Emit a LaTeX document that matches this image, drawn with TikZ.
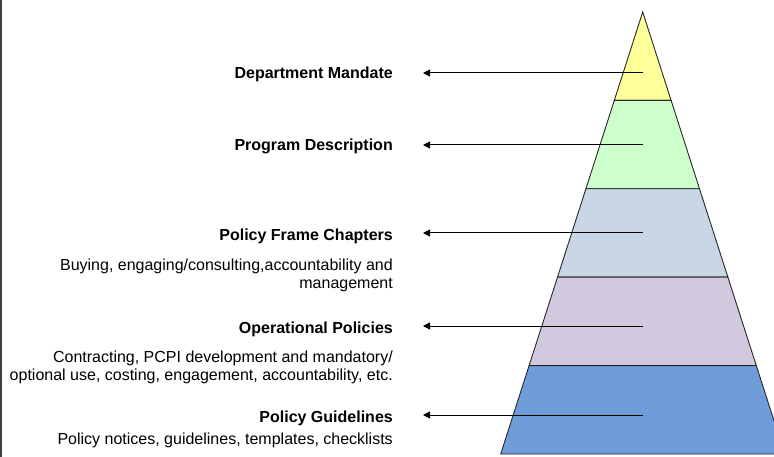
\documentclass[tikz,border=0pt]{standalone}
\usepackage{fontspec}
\setmainfont{Liberation Sans}
\usetikzlibrary{arrows.meta}
\definecolor{layA}{HTML}{FFFF99}
\definecolor{layB}{HTML}{CCFFCC}
\definecolor{layC}{HTML}{C8D6E6}
\definecolor{layD}{HTML}{D2C9DF}
\definecolor{layE}{HTML}{6F9DDA}
\tikzset{
  band/.style={draw=black!85, line width=0.9pt, line join=miter},
  title/.style={anchor=base east, inner sep=0pt, font=\fontsize{16}{18}\selectfont\bfseries},
  desc/.style={anchor=base east, inner sep=0pt, align=right, font=\fontsize{16}{18}\selectfont},
  pointer/.style={draw=black, line width=1pt, -{Triangle[length=7pt,width=7pt]}}
}
\begin{document}
\begin{tikzpicture}[x=1pt,y=-1pt]
\useasboundingbox (0,0) rectangle (774,457);
\clip (0,0) rectangle (774,457);
\draw[black!75, line width=1.5pt] (1,0) -- (1,457);
% pyramid bands
\path[band, fill=layA] (642.7,12) -- (671.1,100.4) -- (614.3,100.4) -- cycle;
\path[band, fill=layB] (614.3,100.4) -- (671.1,100.4) -- (699.5,188.8) -- (585.9,188.8) -- cycle;
\path[band, fill=layC] (585.9,188.8) -- (699.5,188.8) -- (727.9,277.2) -- (557.5,277.2) -- cycle;
\path[band, fill=layD] (557.5,277.2) -- (727.9,277.2) -- (756.3,365.6) -- (529.1,365.6) -- cycle;
\path[band, fill=layE] (529.1,365.6) -- (756.3,365.6) -- (784.7,454) -- (500.7,454) -- cycle;
% arrow anchors
\coordinate (s1) at (642.7,73);  \coordinate (e1) at (423,73);
\coordinate (s2) at (642.7,145); \coordinate (e2) at (423,145);
\coordinate (s3) at (642.7,233); \coordinate (e3) at (423,233);
\coordinate (s4) at (642.7,326); \coordinate (e4) at (423,326);
\coordinate (s5) at (642.7,415); \coordinate (e5) at (423,415);
\draw[pointer] (s1) -- (e1);
\draw[pointer] (s2) -- (e2);
\draw[pointer] (s3) -- (e3);
\draw[pointer] (s4) -- (e4);
\draw[pointer] (s5) -- (e5);
% labels
\node[title] (t1) at (393,79) {Department Mandate};
\node[title] (t2) at (393,151) {Program Description};
\node[title] (t3) at (393,241) {Policy Frame Chapters};
\node[desc]  (d3) at (393,288.5) {Buying, engaging/consulting,accountability and\\management};
\node[title] (t4) at (393,333) {Operational Policies};
\node[desc]  (d4) at (393,380.5) {Contracting, PCPI development and mandatory/\\optional use, costing, engagement, accountability, etc.};
\node[title] (t5) at (393,422) {Policy Guidelines};
\node[desc]  (d5) at (393,444) {Policy notices, guidelines, templates, checklists};
\end{tikzpicture}
\end{document}
